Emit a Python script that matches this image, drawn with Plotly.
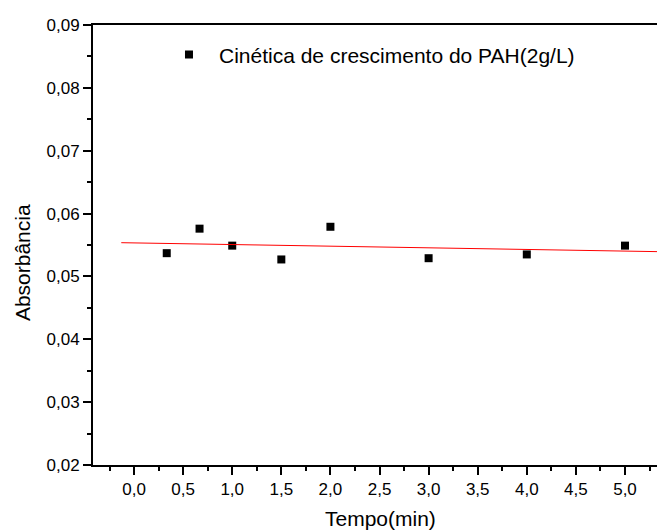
import numpy as np
import plotly.graph_objects as go

# Data
tempo_min = [0.333, 0.667, 1.0, 1.5, 2.0, 3.0, 4.0, 5.0]
absorbancia = [0.0537, 0.0576, 0.0549, 0.0527, 0.0579, 0.0529, 0.0535, 0.0549]
series_name = "Cinética de crescimento do PAH(2g/L)"
x_title = "Tempo(min)"
y_title = "Absorbância"

# Linear fit of the data (red line)
slope, intercept = np.polyfit(tempo_min, absorbancia, 1)
fit_x = np.array([-0.13, 5.4])
fit_y = slope * fit_x + intercept

FONT = "Liberation Sans, Arial, sans-serif"

fig = go.Figure()
fig.add_trace(go.Scatter(
    x=tempo_min, y=absorbancia, mode="markers", name=series_name,
    marker=dict(symbol="square", size=8, color="black"),
    cliponaxis=False,
))
fig.add_trace(go.Scatter(
    x=fit_x, y=fit_y, mode="lines", showlegend=False,
    line=dict(color="red", width=1),
))

fig.update_layout(
    width=657, height=532,
    margin=dict(l=93, r=0, t=25, b=67),
    paper_bgcolor="white", plot_bgcolor="white",
    separators=",.",
    font=dict(family=FONT, color="black", size=17),
    showlegend=True,
    legend=dict(
        x=0.117, y=0.979, xanchor="left", yanchor="top",
        bgcolor="rgba(0,0,0,0)", itemwidth=50,
        font=dict(size=21, family=FONT),
    ),
    annotations=[
        dict(text=x_title, xref="paper", yref="paper", x=0.509, y=-0.121,
             xanchor="center", yanchor="middle", showarrow=False,
             font=dict(size=21, family=FONT)),
        dict(text=y_title, xref="paper", yref="paper", x=-0.126, y=0.461,
             xanchor="center", yanchor="middle", showarrow=False, textangle=-90,
             font=dict(size=21, family=FONT)),
    ],
)

fig.update_xaxes(
    range=[-0.418, 5.326], showgrid=False, zeroline=False,
    showline=True, linecolor="black", linewidth=2, mirror=True,
    ticks="outside", ticklen=8, tickwidth=2, tickcolor="black",
    tick0=0, dtick=0.5, tickformat=".1f",
    minor=dict(ticks="outside", ticklen=4, tickwidth=2, tickcolor="black", dtick=0.25, tick0=0),
    tickfont=dict(size=17, family=FONT),
)
fig.update_yaxes(
    range=[0.02, 0.09], showgrid=False, zeroline=False,
    showline=True, linecolor="black", linewidth=2,
    ticks="outside", ticklen=8, tickwidth=2, tickcolor="black",
    tick0=0.02, dtick=0.01, tickformat=".2f",
    minor=dict(ticks="outside", ticklen=4, tickwidth=2, tickcolor="black", dtick=0.005),
    tickfont=dict(size=17, family=FONT),
)

fig.write_html("out.html")
